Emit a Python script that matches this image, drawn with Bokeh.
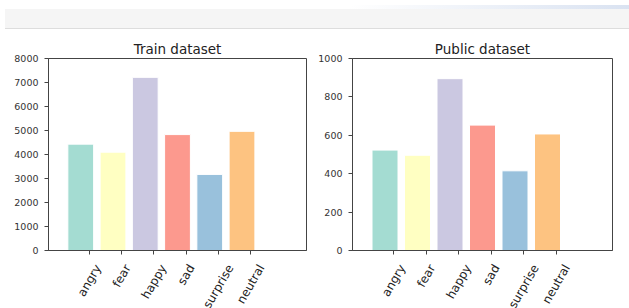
import math
from bokeh.plotting import figure
from bokeh.models import (ColumnDataSource, Range1d, FixedTicker, LinearAxis, Div)
from bokeh.layouts import column, row
from bokeh.embed import file_html
from bokeh.resources import INLINE

categories = ["angry", "fear", "happy", "sad", "surprise", "neutral"]
train_counts = [4431, 4097, 7215, 4830, 3171, 4965]
public_counts = [523, 496, 895, 653, 415, 607]
colors = ["#8dd3c7", "#ffffb3", "#bebada", "#fb8072", "#80b1d3", "#fdb462"]
train_yticks = [0, 1000, 2000, 3000, 4000, 5000, 6000, 7000, 8000]
public_yticks = [0, 200, 400, 600, 800, 1000]

TICK_SHIFT = 0.27
LABEL_FS = 12.0
# approximate DejaVu Sans advance widths (em)
W = {"a": .613, "n": .634, "g": .635, "r": .411, "y": .592, "f": .352, "e": .615,
     "h": .634, "p": .635, "s": .521, "d": .635, "u": .634, "i": .278, "t": .392, "l": .278}


def make(title, counts, yticks, ymax, fw, left, right):
    p = figure(frame_width=fw, frame_height=192, output_backend="svg", toolbar_location=None,
               x_range=Range1d(-1, 7), y_range=Range1d(0, ymax),
               min_border_left=left, min_border_right=right, min_border_top=24,
               min_border_bottom=0, title=title)
    p.title.align = "center"
    p.title.text_font = "DejaVu Sans"
    p.title.text_font_style = "normal"
    p.title.text_font_size = "13.5px"
    p.title.text_color = "#222222"
    p.title.standoff = 3
    p.title.offset = 0
    p.grid.visible = False
    p.outline_line_color = "#444444"
    p.outline_line_width = 1

    src = ColumnDataSource(dict(x=list(range(len(categories))), top=counts, color=colors))
    p.vbar(x="x", top="top", width=0.8, source=src, fill_color="color", fill_alpha=0.8,
           line_color="white", line_width=1)

    ticks = [i + TICK_SHIFT for i in range(len(categories))]
    for ax in (p.xaxis[0], p.yaxis[0]):
        ax.axis_line_color = "#444444"
        ax.major_tick_line_color = "#444444"
        ax.major_tick_out = 4
        ax.major_tick_in = 0
        ax.minor_tick_line_color = None
        ax.major_label_text_font = "DejaVu Sans"
        ax.major_label_text_font_size = "9.5px"
        ax.major_label_text_color = "#333333"
        ax.major_label_standoff = 6
    p.yaxis.ticker = FixedTicker(ticks=yticks)
    p.xaxis.ticker = FixedTicker(ticks=ticks)
    p.xaxis.major_label_overrides = {t: "" for t in ticks}
    p.xaxis.major_label_text_font_size = "1px"
    p.xaxis.major_label_standoff = 0

    # rotated category labels: right end placed where matplotlib's centred label ends
    ppu = fw / 8.0
    lpos = []
    for t, c in zip(ticks, categories):
        L = sum(W.get(ch, .6) for ch in c) * LABEL_FS
        lpos.append(round(t + (L / 4.0) / ppu, 4))
    lab = LinearAxis(ticker=FixedTicker(ticks=lpos),
                     major_label_overrides={v: c for v, c in zip(lpos, categories)})
    lab.axis_line_color = None
    lab.major_tick_line_color = None
    lab.minor_tick_line_color = None
    lab.major_tick_out = 0
    lab.major_tick_in = 0
    lab.major_label_orientation = math.radians(60)
    lab.major_label_text_font = "DejaVu Sans"
    lab.major_label_text_font_size = f"{LABEL_FS}px"
    lab.major_label_text_color = "#222222"
    lab.major_label_standoff = 11
    p.add_layout(lab, "below")
    return p


p1 = make("Train dataset", train_counts, train_yticks, 8000, 258, 48, 6)
p2 = make("Public dataset", public_counts, public_yticks, 1000, 260, 40, 16)

band = Div(text="", width=628, height=24,
           styles={"background": "linear-gradient(#f5f5f5, #f5f5f5) 0 4px / 100% 20px no-repeat, "
                                 "linear-gradient(to right, #ffffff, #ffffff 55%, #d9e2f1)",
                   "border-bottom": "1px solid #dddddd", "box-sizing": "border-box"})
layout = column(band, row(p1, p2, spacing=0), spacing=0)

open("out.html", "w").write(file_html(layout, INLINE))
